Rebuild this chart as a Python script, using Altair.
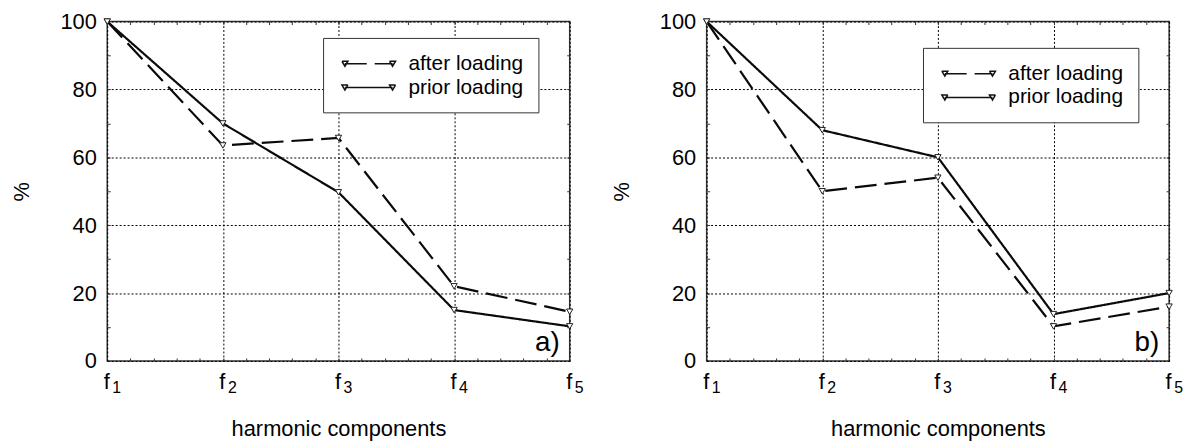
import altair as alt
import pandas as pd
import numpy as np

FONT = "Liberation Sans"

HARMONICS = [1, 2, 3, 4, 5]
X_LABELS = ["f", "f", "f", "f", "f"]
X_SUBSCRIPTS = ["1", "2", "3", "4", "5"]
SERIES = ["after loading", "prior loading"]
Y_TICKS = [0, 20, 40, 60, 80, 100]
Y_MINOR = [10, 20, 30, 40, 50, 60, 70, 80, 90]
X_MINOR = [round(v, 1) for v in np.arange(1.2, 5.0, 0.2)]

A_AFTER = [100, 63.5, 65.7, 22, 14.5]
A_PRIOR = [100, 70, 49.7, 15, 10.2]
B_AFTER = [100, 50, 54, 10.2, 16]
B_PRIOR = [100, 68, 60, 13.8, 20]
PANEL_LABELS = ["a)", "b)"]

W, H = 466, 342

LEGEND_PATH = ("M-2.7,-0.25L-2.1,-0.25L-2.4,0.25Z"
               "M2.1,-0.25L2.7,-0.25L2.4,0.25Z"
               "M-2.4,0L2.4,0")


def lbl_expr(labels):
    return "[''," + ",".join(f"'{l}'" for l in labels) + "][datum.value]"


def panel(after, prior, tag, legend_x, legend_y):
    df = pd.DataFrame({
        "h": HARMONICS * 2,
        "v": after + prior,
        "s": [SERIES[0]] * len(after) + [SERIES[1]] * len(prior),
    })
    xs = alt.Scale(domain=[1, 5], nice=False, zero=False, padding=0)
    ys = alt.Scale(domain=[0, 100], nice=False)
    base = alt.Chart(df)

    main_x = alt.Axis(values=HARMONICS, labelExpr=lbl_expr(X_LABELS), grid=True,
                      gridDash=[2, 2], gridColor="black", gridOpacity=1, gridWidth=1,
                      ticks=False, domain=False, labelFontSize=22, labelFont=FONT,
                      labelColor="black", labelBaseline="alphabetic", labelPadding=28,
                      labelAngle=0, labelFlush=False, labelOverlap=False, labelOffset=-1,
                      title="harmonic components", titleFont=FONT, titleFontSize=22,
                      titleFontWeight="normal", titleColor="black",
                      titleBaseline="alphabetic", titleY=75, titleX=W / 2)
    main_y = alt.Axis(values=Y_TICKS, grid=True, gridDash=[2, 2], gridColor="black",
                      gridOpacity=1, gridWidth=1, ticks=False, domain=False,
                      labelFontSize=22, labelFont=FONT, labelColor="black",
                      labelPadding=11, labelFlush=False, labelOverlap=False,
                      title="%", titleFont=FONT, titleFontSize=22,
                      titleFontWeight="normal", titleColor="black",
                      titleBaseline="middle", titleX=-86, titleY=H / 2)

    legend = alt.Legend(
        orient="none", legendX=legend_x, legendY=legend_y, title=None,
        strokeColor="#333", fillColor="white", padding=15,
        labelFont=FONT, labelFontSize=21, labelColor="black",
        symbolType=LEGEND_PATH, symbolSize=400, symbolOffset=20, labelOffset=29,
        rowPadding=3, symbolStrokeWidth=1.5, symbolStrokeColor="#111",
        symbolFillColor="white",
    )

    lines = base.mark_line(color="#0a0a0a", strokeWidth=2.2).encode(
        x=alt.X("h:Q", scale=xs, axis=main_x),
        y=alt.Y("v:Q", scale=ys, axis=main_y),
        strokeDash=alt.StrokeDash("s:N", scale=alt.Scale(domain=SERIES, range=[[22, 8], [1, 0]]),
                                  legend=legend),
    )
    pts = base.mark_point(shape="triangle-down", filled=True, fill="white", stroke="#222",
                          strokeWidth=1, size=40, opacity=1).encode(
        x=alt.X("h:Q", scale=xs, axis=alt.Axis(orient="bottom", offset=-3, values=X_MINOR,
                                                tickSize=3, tickColor="#333", labels=False,
                                                domain=False, grid=False, title=None)),
        y=alt.Y("v:Q", scale=ys, axis=alt.Axis(orient="left", offset=-3, values=Y_MINOR,
                                                tickSize=3, tickColor="#333", labels=False,
                                                domain=False, grid=False, title=None)),
    )
    inv_top = base.mark_point(opacity=0).encode(
        x=alt.X("h:Q", scale=xs, axis=alt.Axis(orient="top", offset=-3, values=X_MINOR,
                                                tickSize=3, tickColor="#333", labels=False,
                                                domain=False, grid=False, title=None)),
        y=alt.Y("v:Q", scale=ys, axis=alt.Axis(orient="right", offset=-3, values=Y_MINOR,
                                                tickSize=3, tickColor="#333", labels=False,
                                                domain=False, grid=False, title=None)),
    )
    inv_sub = base.mark_point(opacity=0).encode(
        x=alt.X("h:Q", scale=xs, axis=alt.Axis(orient="bottom", values=HARMONICS,
                                                labelExpr=lbl_expr(X_SUBSCRIPTS),
                                                labelFontSize=16, labelFont=FONT,
                                                labelColor="black", labelBaseline="alphabetic",
                                                labelPadding=32, labelAngle=0, labelOffset=9,
                                                labelFlush=False, labelOverlap=False,
                                                ticks=False, domain=False, grid=False,
                                                title=None)),
        y=alt.Y("v:Q", scale=ys, axis=None),
    )
    txt = alt.Chart(pd.DataFrame({"t": [tag]})).mark_text(
        align="right", baseline="alphabetic", fontSize=28, font=FONT, color="black"
    ).encode(text="t:N", x=alt.value(W - 10), y=alt.value(H - 10))

    return alt.layer(lines, pts, inv_top, inv_sub, txt).resolve_axis(
        x="independent", y="independent"
    ).properties(width=W, height=H)


pa = panel(A_AFTER, A_PRIOR, PANEL_LABELS[0], 217.5, 16.5)
pb = panel(B_AFTER, B_PRIOR, PANEL_LABELS[1], 218, 26.5)

chart = alt.hconcat(pa, pb, spacing=138, bounds="flush").resolve_legend(
    strokeDash="independent"
).resolve_scale(strokeDash="independent").configure_view(
    stroke="#333", strokeWidth=1.5
).configure_axis(
    labelFont=FONT, titleFont=FONT
).properties(padding={"left": 2, "top": 0, "right": 0, "bottom": 0}, background="white")

chart.save("out.html", embed_options={"renderer": "svg", "actions": False})
